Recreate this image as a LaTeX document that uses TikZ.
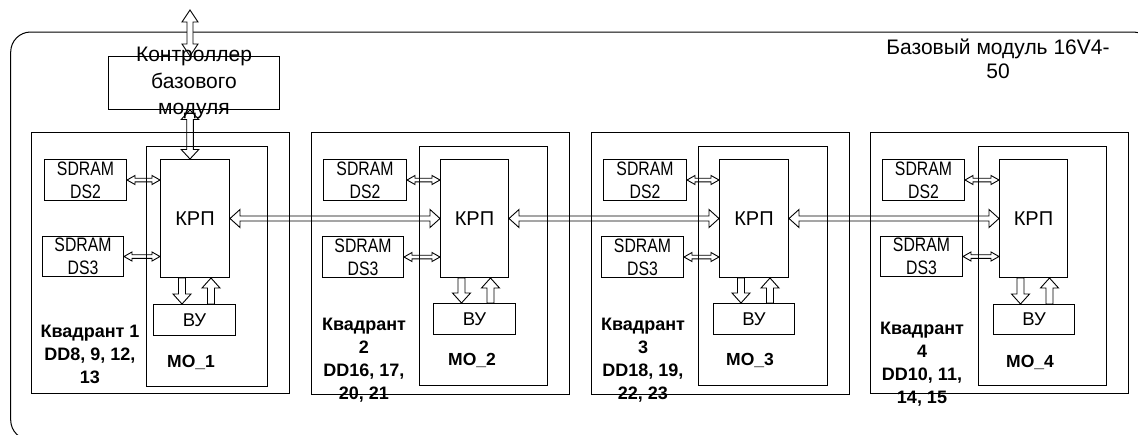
\documentclass[tikz,border=0pt]{standalone}
\usepackage{fontspec}
\setmainfont{Liberation Sans}
\newfontfamily\narrowfont[FakeStretch=0.81]{Liberation Sans}
\usetikzlibrary{calc}
\tikzset{
  box/.style={draw, line width=1pt, inner sep=0pt, anchor=north west},
  arr/.style={draw, line width=0.9pt, line join=miter},
  krpbox/.style={font=\fontsize{20}{24}\selectfont},
  vubox/.style={font=\fontsize{18.5}{22}\selectfont},
  sdbox/.style={align=center, font=\narrowfont\fontsize{19.5}{23}\selectfont},
  qlabel/.style={font=\bfseries\fontsize{18}{23}\selectfont, align=center, anchor=north, inner sep=0pt},
  molabel/.style={font=\bfseries\fontsize{17.5}{21}\selectfont, inner sep=0pt},
}
% horizontal double arrow: y from A, tips at x of A and x of B
\newcommand{\hdarrow}[6][]{%
  \path[arr,#1] let \p1=#2, \p2=#3 in
  (\x1,\y1) -- (\x1+#6,\y1+#5) -- (\x1+#6,\y1+#4) -- (\x2-#6,\y1+#4) -- (\x2-#6,\y1+#5)
  -- (\x2,\y1) -- (\x2-#6,\y1-#5) -- (\x2-#6,\y1-#4) -- (\x1+#6,\y1-#4) -- (\x1+#6,\y1-#5) -- cycle;}
% vertical double arrow: A above B, x from A
\newcommand{\vdarrow}[6][]{%
  \path[arr,#1] let \p1=#2, \p2=#3 in
  (\x1,\y1) -- (\x1+#5,\y1-#6) -- (\x1+#4,\y1-#6) -- (\x1+#4,\y2+#6) -- (\x1+#5,\y2+#6)
  -- (\x1,\y2) -- (\x1-#5,\y2+#6) -- (\x1-#4,\y2+#6) -- (\x1-#4,\y1-#6) -- (\x1-#5,\y1-#6) -- cycle;}
% downward single arrow: tail at A, tip at B (below), x from A
\newcommand{\vdown}[6][]{%
  \path[arr,#1] let \p1=#2, \p2=#3 in
  (\x1-#4,\y1) -- (\x1-#4,\y2+#6) -- (\x1-#5,\y2+#6) -- (\x1,\y2) -- (\x1+#5,\y2+#6)
  -- (\x1+#4,\y2+#6) -- (\x1+#4,\y1) -- cycle;}
% upward single arrow: tail at A (below), tip at B, x from B
\newcommand{\vup}[6][]{%
  \path[arr,#1] let \p1=#2, \p2=#3 in
  (\x2-#4,\y1) -- (\x2-#4,\y2-#6) -- (\x2-#5,\y2-#6) -- (\x2,\y2) -- (\x2+#5,\y2-#6)
  -- (\x2+#4,\y2-#6) -- (\x2+#4,\y1) -- cycle;}
\begin{document}
\begin{tikzpicture}[x=1pt, y=-1pt]
\useasboundingbox (0,0) rectangle (1138,434);
% outer frame (partly outside the picture)
\begin{scope}
  \clip (0,0) rectangle (1138,434);
  \draw[line width=1pt, rounded corners=20pt] (10.7,32) rectangle (1153,440);
\end{scope}
\node[font=\fontsize{21}{24}\selectfont, align=center, anchor=north, inner sep=0pt] (title) at (998,39) {Базовый модуль 16V4-\\50};

% controller
\node[box, minimum width=171pt, minimum height=53pt] (ctrl) at (108,56) {};
\coordinate (ctop) at (190,10);
\vdarrow[fill=white]{(ctop)}{(ctop |- ctrl.north)}{3pt}{8pt}{12pt}

% ---------- quadrant 1
\node[box, minimum width=258pt, minimum height=261pt] (q1) at (31,132) {};
\node[box, minimum width=121pt, minimum height=240pt] (mo1) at (146,146) {};
\node[box, krpbox, minimum width=69pt, minimum height=118pt] (krp1) at (160,159) {КРП};
\node[box, sdbox, minimum width=82pt, minimum height=41pt] (dsa1) at (44,159) {SDRAM\\DS2};
\node[box, sdbox, minimum width=81pt, minimum height=40pt] (dsb1) at (42,236) {SDRAM\\DS3};
\node[box, vubox, minimum width=82pt, minimum height=31pt] (vu1) at (153,304) {ВУ};
\node[qlabel] (ql1) at (90,325) {Квадрант 1\\DD8, 9, 12,\\13};
\node[molabel] (mol1) at (191,362) {МО\_1};

% ---------- quadrant 2
\node[box, minimum width=258pt, minimum height=262pt] (q2) at (311,132) {};
\node[box, minimum width=128pt, minimum height=239pt] (mo2) at (419,146) {};
\node[box, krpbox, minimum width=68pt, minimum height=118pt] (krp2) at (440,159) {КРП};
\node[box, sdbox, minimum width=83pt, minimum height=41pt] (dsa2) at (323,159) {SDRAM\\DS2};
\node[box, sdbox, minimum width=81pt, minimum height=41pt] (dsb2) at (322,236) {SDRAM\\DS3};
\node[box, vubox, minimum width=82pt, minimum height=31pt] (vu2) at (433,303) {ВУ};
\node[qlabel] (ql2) at (364,318) {Квадрант\\2\\DD16, 17,\\20, 21};
\node[molabel] (mol2) at (472,360) {МО\_2};

% ---------- quadrant 3
\node[box, minimum width=258pt, minimum height=262pt] (q3) at (591,132) {};
\node[box, minimum width=129pt, minimum height=239pt] (mo3) at (698,146) {};
\node[box, krpbox, minimum width=69pt, minimum height=118pt] (krp3) at (719,159) {КРП};
\node[box, sdbox, minimum width=83pt, minimum height=41pt] (dsa3) at (603,159) {SDRAM\\DS2};
\node[box, sdbox, minimum width=82pt, minimum height=41pt] (dsb3) at (601,236) {SDRAM\\DS3};
\node[box, vubox, minimum width=81pt, minimum height=31pt] (vu3) at (713,303) {ВУ};
\node[qlabel] (ql3) at (643,318) {Квадрант\\3\\DD18, 19,\\22, 23};
\node[molabel] (mol3) at (750,360) {МО\_3};

% ---------- quadrant 4
\node[box, minimum width=258pt, minimum height=261pt] (q4) at (870,132) {};
\node[box, minimum width=128pt, minimum height=239pt] (mo4) at (978,146) {};
\node[box, krpbox, minimum width=68pt, minimum height=118pt] (krp4) at (999,159) {КРП};
\node[box, sdbox, minimum width=82pt, minimum height=41pt] (dsa4) at (882,159) {SDRAM\\DS2};
\node[box, sdbox, minimum width=82pt, minimum height=40pt] (dsb4) at (880,236) {SDRAM\\DS3};
\node[box, vubox, minimum width=81pt, minimum height=30pt] (vu4) at (993,304) {ВУ};
\node[qlabel] (ql4) at (922,322) {Квадрант\\4\\DD10, 11,\\14, 15};
\node[molabel] (mol4) at (1030,362) {МО\_4};

% controller text and arrow to KRP 1
\node[font=\fontsize{21}{26.5}\selectfont, align=center, inner sep=0pt] (ctrltext) at (ctrl.center) {Контроллер\\базового\\модуля};
\vdarrow{(ctop |- ctrl.south)}{(ctop |- krp1.north)}{3.3pt}{8.8pt}{9.5pt}

% arrows inside quadrants
\foreach \i in {1,2,3,4}{
  \hdarrow{(dsa\i.east)}{(krp\i.west)}{1.8pt}{4.5pt}{8pt}
  \hdarrow{(dsb\i.east)}{(krp\i.west)}{1.8pt}{4.5pt}{8pt}
  \vdown{([xshift=-13pt]krp\i.south)}{(vu\i.north)}{3.5pt}{9pt}{10pt}
  \vup{(vu\i.north)}{([xshift=16pt]krp\i.south)}{3.5pt}{9pt}{10pt}
}
% arrows between KRP blocks
\hdarrow{(krp1.east)}{(krp2.west)}{2.5pt}{9pt}{10pt}
\hdarrow{(krp2.east)}{(krp3.west)}{2.5pt}{9pt}{10pt}
\hdarrow{(krp3.east)}{(krp4.west)}{2.5pt}{9pt}{10pt}
\end{tikzpicture}
\end{document}
